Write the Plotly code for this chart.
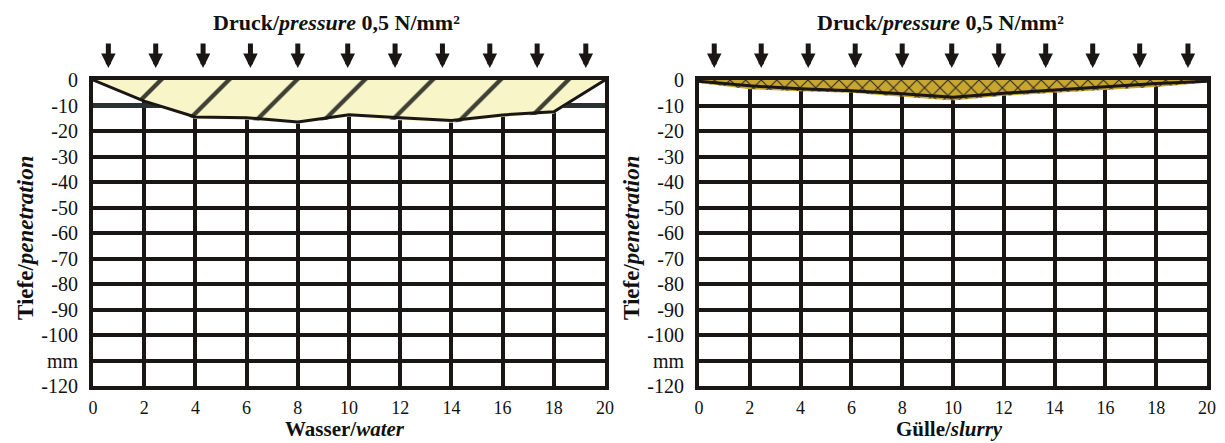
import plotly.graph_objects as go

# ---------------- data ----------------
x_pos = [0, 2, 4, 6, 8, 10, 12, 14, 16, 18, 20]
water_line = [0, -8.3, -14.5, -14.8, -16.5, -13.6, -14.8, -15.9, -13.7, -12.5, 0]
water_fill = [0, -8.6, -15.3, -15.6, -17.2, -14.4, -15.8, -16.8, -14.5, -13.2, 0]
slurry_line = [-0.5, -2.3, -3.4, -4.2, -5.4, -6.8, -5.2, -4.0, -2.8, -1.4, -0.5]
slurry_fill = [-1.2, -3.6, -4.4, -5.0, -6.6, -8.0, -6.2, -5.0, -3.9, -2.7, -1.0]
arrow_x = [0.6, 2.45, 4.3, 6.15, 8.0, 9.95, 11.8, 13.65, 15.5, 17.35, 19.25]
x_ticks = [0, 2, 4, 6, 8, 10, 12, 14, 16, 18, 20]
y_ticks = [0, -10, -20, -30, -40, -50, -60, -70, -80, -90, -100, -110, -120]
y_ticktext = ["0", "-10", "-20", "-30", "-40", "-50", "-60", "-70", "-80", "-90", "-100", "mm", "-120"]
title_text = "<b>Druck/<i>pressure</i> 0,5 N/mm²</b>"
x_titles = ["<b>Wasser/<i>water</i></b>", "<b>Gülle/<i>slurry</i></b>"]
y_title = "<b>Tiefe/<i>penetration</i></b>"

# page body has an 8px margin: draw the figure 8px smaller and shift coords
OFF = 8
W, H = 1225 - OFF, 443 - OFF
FONT = "Liberation Serif, Times New Roman, serif"
BLACK = "#1a1616"


def px(xp):
    return (xp - OFF) / W


def py(yp):
    return (H - (yp - OFF)) / H


fig = go.Figure()

fig.add_trace(go.Scatter(
    x=x_pos, y=water_fill, mode="lines", line=dict(width=0, color="rgba(0,0,0,0)"),
    fill="tozeroy", fillcolor="#F8F6C8",
    fillpattern=dict(shape="/", fgcolor="#111111", fgopacity=0.8, bgcolor="#F8F6C8",
                     size=48, solidity=0.09),
    xaxis="x", yaxis="y", hoverinfo="skip", showlegend=False))
fig.add_trace(go.Scatter(
    x=x_pos, y=water_line, mode="lines", line=dict(width=3, color=BLACK),
    xaxis="x", yaxis="y", showlegend=False))

fig.add_trace(go.Scatter(
    x=x_pos, y=slurry_fill, mode="lines", line=dict(width=0, color="rgba(0,0,0,0)"),
    fill="tozeroy", fillcolor="#C8A630",
    fillpattern=dict(shape="x", fgcolor="#2b2b2b", fgopacity=1, bgcolor="#C8A630",
                     size=11, solidity=0.2),
    xaxis="x2", yaxis="y2", hoverinfo="skip", showlegend=False))
fig.add_trace(go.Scatter(
    x=x_pos, y=slurry_line, mode="lines", line=dict(width=3, color=BLACK),
    xaxis="x2", yaxis="y2", showlegend=False))

ydom = [py(386), py(80)]
x1dom = [px(93), px(605)]
x2dom = [px(699), px(1207)]

common_x = dict(range=[0, 20], tickvals=x_ticks, ticktext=[str(v) for v in x_ticks],
                showgrid=True, gridcolor=BLACK, gridwidth=4, zeroline=False,
                showline=True, linecolor=BLACK, linewidth=4, mirror=True,
                ticks="", ticklabelstandoff=2, automargin=False,
                tickfont=dict(family=FONT, size=18, color="#111"))
common_y = dict(range=[-120, 0], tickvals=y_ticks, ticktext=y_ticktext,
                showgrid=True, gridcolor=BLACK, gridwidth=4, zeroline=False,
                showline=True, linecolor=BLACK, linewidth=4, mirror=True,
                ticks="", ticklabelstandoff=7, automargin=False,
                tickfont=dict(family=FONT, size=20, color="#111"), domain=ydom)

fig.update_layout(
    width=W, height=H, margin=dict(l=0, r=0, t=0, b=0, pad=0), autosize=False,
    paper_bgcolor="white", plot_bgcolor="white", showlegend=False,
    xaxis=dict(domain=x1dom, anchor="y", **common_x),
    yaxis=dict(anchor="x", **common_y),
    xaxis2=dict(domain=x2dom, anchor="y2", **common_x),
    yaxis2=dict(anchor="x2", **common_y),
)

fig.add_shape(type="line", xref="x", yref="y", x0=0, x1=20, y0=-10, y1=-10,
              line=dict(color="#2a3232", width=5), layer="between")

annotations = []
for xr, dom, xt in [("x", x1dom, x_titles[0]), ("x2", x2dom, x_titles[1])]:
    for ax_ in arrow_x:
        annotations.append(dict(
            x=ax_, xref=xr, y=py(68), yref="paper", ax=0, ay=-26,
            text="", showarrow=True, arrowhead=2, arrowwidth=5, arrowsize=0.58,
            arrowcolor=BLACK, standoff=0))
    cx = (dom[0] + dom[1]) / 2
    annotations.append(dict(
        x=cx - 13 / W, xref="paper", y=1.0, yref="paper",
        text=title_text, showarrow=False, xanchor="center", yanchor="top",
        font=dict(family=FONT, size=22, color="#111")))
    annotations.append(dict(
        x=cx - 4 / W, xref="paper", y=0.0, yref="paper",
        text=xt, showarrow=False, xanchor="center", yanchor="bottom",
        font=dict(family=FONT, size=21, color="#111")))
    annotations.append(dict(
        x=dom[0] - 68 / W, xref="paper", y=py(238), yref="paper",
        text=y_title, showarrow=False, textangle=-90, xanchor="center", yanchor="middle",
        font=dict(family=FONT, size=23, color="#111")))

fig.update_layout(annotations=annotations)

fig.write_html("out.html")
